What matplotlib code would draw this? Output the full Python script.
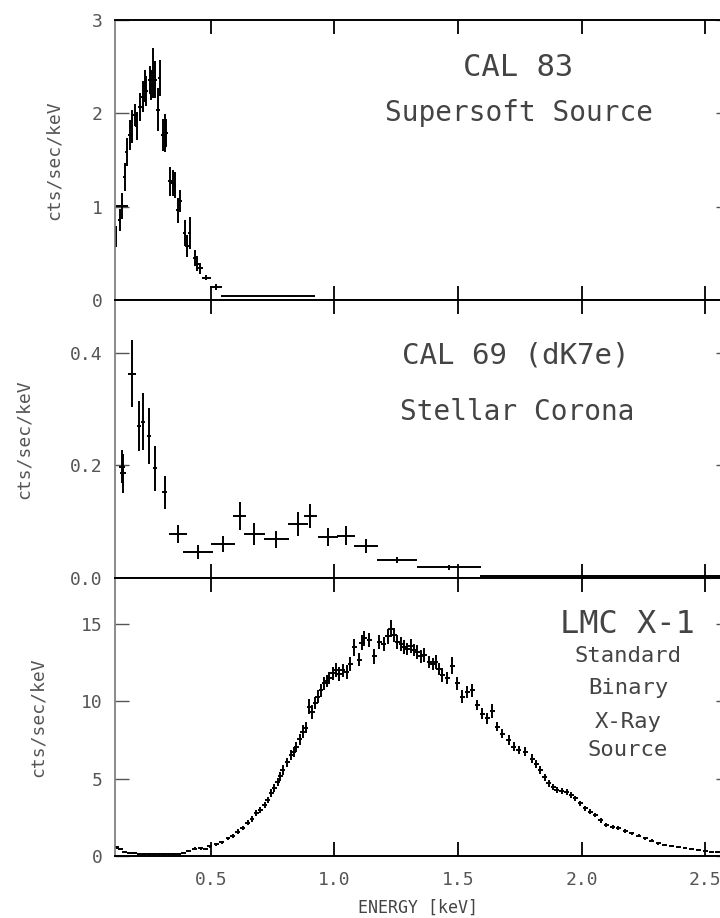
"""
三联 X 射线能谱图：CAL 83 / CAL 69 / LMC X-1
"""

import matplotlib
matplotlib.use('Agg')
import matplotlib.pyplot as plt
from matplotlib.ticker import FormatStrFormatter

# 1. 数据
# CAL 83 超软源
cal83_e = [0.117, 0.133, 0.14, 0.153, 0.16, 0.173, 0.18, 0.194, 0.20, 0.214,
           0.227, 0.234, 0.24, 0.254, 0.26, 0.267, 0.274, 0.287, 0.294, 0.307,
           0.314, 0.32, 0.335, 0.348, 0.354, 0.368, 0.375, 0.395, 0.404, 0.415,
           0.435, 0.445, 0.458, 0.483, 0.523, 0.637, 0.825, 1.19]
cal83_y = [0.68, 0.86, 1.01, 1.32, 1.59, 1.77, 1.86, 1.98, 1.86, 2.07,
           2.18, 2.29, 2.24, 2.36, 2.30, 2.43, 2.36, 2.04, 2.38, 1.77,
           1.79, 1.79, 1.27, 1.25, 1.23, 0.96, 1.06, 0.72, 0.58, 0.72,
           0.45, 0.39, 0.34, 0.24, 0.14, 0.045, 0.04, 0.005]
cal83_ex = [0.006, 0.006, 0.024, 0.006, 0.006, 0.007, 0.007, 0.012, 0.007, 0.007,
            0.007, 0.007, 0.007, 0.007, 0.007, 0.007, 0.007, 0.007, 0.007, 0.007,
            0.007, 0.007, 0.007, 0.007, 0.007, 0.007, 0.007, 0.007, 0.007, 0.007,
            0.007, 0.007, 0.01, 0.02, 0.024, 0.094, 0.095, 0.25]
cal83_ey = [0.11, 0.12, 0.14, 0.15, 0.15, 0.16, 0.18, 0.12, 0.15, 0.15,
            0.17, 0.17, 0.16, 0.15, 0.16, 0.27, 0.20, 0.23, 0.19, 0.17,
            0.20, 0.15, 0.16, 0.14, 0.14, 0.13, 0.12, 0.14, 0.12, 0.17,
            0.09, 0.08, 0.06, 0.03, 0.03, 0.005, 0.01, 0.005]

# CAL 69 (dK7e) 恒星冕
cal69_e = [0.14, 0.145, 0.18, 0.211, 0.227, 0.25, 0.274, 0.315, 0.368, 0.449,
           0.55, 0.617, 0.677, 0.765, 0.852, 0.903, 0.973, 1.047, 1.128, 1.254,
           1.464, 2.10]
cal69_y = [0.198, 0.186, 0.363, 0.27, 0.278, 0.252, 0.195, 0.152, 0.078, 0.046,
           0.06, 0.11, 0.078, 0.069, 0.096, 0.11, 0.072, 0.075, 0.057, 0.032,
           0.019, 0.003]
cal69_ex = [0.012, 0.012, 0.016, 0.008, 0.008, 0.008, 0.008, 0.01, 0.036, 0.06,
            0.049, 0.026, 0.044, 0.05, 0.04, 0.027, 0.04, 0.037, 0.05, 0.081,
            0.128, 0.51]
cal69_ey = [0.03, 0.035, 0.06, 0.045, 0.05, 0.05, 0.04, 0.03, 0.016, 0.012,
            0.014, 0.025, 0.02, 0.015, 0.022, 0.022, 0.016, 0.017, 0.012, 0.005,
            0.004, 0.001]

# LMC X-1 标准 X 射线双星
lmc_e = [0.12, 0.135, 0.153, 0.17, 0.19, 0.21, 0.23, 0.25, 0.27, 0.29,
         0.31, 0.33, 0.35, 0.37, 0.39, 0.41, 0.435, 0.46, 0.48, 0.496,
         0.523, 0.545, 0.57, 0.59, 0.61, 0.63, 0.65, 0.667, 0.684, 0.70,
         0.718, 0.73, 0.745, 0.758, 0.771, 0.782, 0.792,
         0.81, 0.825, 0.835, 0.846, 0.86, 0.872, 0.885, 0.899, 0.91, 0.922,
         0.933, 0.946, 0.96, 0.97, 0.98, 0.993, 1.007,
         1.02, 1.033, 1.05, 1.065, 1.081, 1.10, 1.11, 1.121, 1.141, 1.161,
         1.181, 1.20, 1.215, 1.229, 1.242, 1.255,
         1.27, 1.282, 1.295, 1.309, 1.322, 1.336, 1.35, 1.363, 1.383, 1.397,
         1.41, 1.423, 1.437, 1.457, 1.477, 1.497,
         1.517, 1.537, 1.558, 1.578, 1.598, 1.618, 1.638, 1.658, 1.679, 1.706,
         1.726, 1.746, 1.773,
         1.80, 1.817, 1.833, 1.85, 1.867, 1.885, 1.90, 1.92, 1.94, 1.958,
         1.975, 1.995, 2.015, 2.035, 2.055, 2.078, 2.10,
         2.125, 2.149, 2.176, 2.203, 2.23, 2.257, 2.284, 2.31, 2.337, 2.364,
         2.39, 2.418, 2.445, 2.472, 2.50, 2.525, 2.55, 2.575]
lmc_y = [0.56, 0.45, 0.28, 0.22, 0.18, 0.15, 0.13, 0.15, 0.12, 0.14,
         0.12, 0.14, 0.13, 0.16, 0.18, 0.30, 0.48, 0.50, 0.44, 0.62,
         0.75, 0.88, 1.14, 1.30, 1.57, 1.80, 2.15, 2.40, 2.76, 2.95,
         3.30, 3.62, 4.05, 4.40, 4.80, 5.15, 5.56,
         6.05, 6.53, 6.70, 7.07, 7.55, 8.04, 8.30, 9.65, 9.30, 9.90,
         10.30, 10.70, 11.16, 11.30, 11.49, 11.80, 12.00,
         11.75, 12.00, 11.90, 12.40, 13.50, 12.70, 13.80, 14.07, 13.96, 12.90,
         13.85, 13.70, 14.20, 14.70, 14.30, 13.85,
         13.70, 13.50, 13.40, 13.60, 13.30, 13.20, 12.90, 13.00, 12.56, 12.40,
         12.56, 12.10, 11.70, 11.50, 12.30, 11.16,
         10.30, 10.60, 10.70, 9.76, 9.20, 8.90, 9.40, 8.36, 7.90, 7.50,
         7.07, 6.86, 6.74,
         6.30, 5.95, 5.56, 5.10, 4.70, 4.45, 4.27, 4.20, 4.16, 3.95,
         3.73, 3.40, 3.08, 2.85, 2.65, 2.30, 2.00,
         1.90, 1.79, 1.62, 1.46, 1.30, 1.14, 0.98, 0.82, 0.72, 0.65,
         0.56, 0.50, 0.44, 0.39, 0.33, 0.28, 0.25, 0.22]
lmc_ey = [0.08, 0.08, 0.07, 0.07, 0.06, 0.06, 0.06, 0.06, 0.06, 0.06,
          0.06, 0.06, 0.06, 0.06, 0.06, 0.07, 0.08, 0.08, 0.08, 0.09,
          0.10, 0.10, 0.12, 0.13, 0.15, 0.15, 0.17, 0.18, 0.20, 0.20,
          0.22, 0.22, 0.25, 0.25, 0.27, 0.28, 0.30,
          0.30, 0.30, 0.32, 0.32, 0.35, 0.40, 0.35, 0.50, 0.45, 0.40,
          0.40, 0.40, 0.42, 0.40, 0.40, 0.42, 0.45,
          0.45, 0.42, 0.45, 0.45, 0.55, 0.45, 0.50, 0.50, 0.45, 0.50,
          0.45, 0.45, 0.50, 0.55, 0.45, 0.45,
          0.45, 0.45, 0.40, 0.45, 0.40, 0.45, 0.40, 0.45, 0.40, 0.40,
          0.45, 0.40, 0.45, 0.40, 0.55, 0.40,
          0.40, 0.40, 0.45, 0.35, 0.35, 0.35, 0.45, 0.30, 0.30, 0.30,
          0.28, 0.28, 0.28,
          0.27, 0.25, 0.25, 0.23, 0.22, 0.20, 0.20, 0.20, 0.20, 0.18,
          0.18, 0.17, 0.16, 0.16, 0.15, 0.14, 0.13,
          0.13, 0.12, 0.12, 0.11, 0.10, 0.10, 0.09, 0.09, 0.08, 0.08,
          0.07, 0.07, 0.07, 0.06, 0.06, 0.06, 0.05, 0.05]

x_ticks = [0.5, 1.0, 1.5, 2.0, 2.5]

# 2. 画布与子图（按像素定位）
plt.rcParams['font.family'] = ['DejaVu Sans Mono', 'DejaVu Sans']
W, H = 720, 918
fig = plt.figure(figsize=(W / 100, H / 100), dpi=100)


def px_box(left, top, right, bottom):
    return [left / W, 1 - bottom / H, (right - left) / W, (bottom - top) / H]


ax1 = fig.add_axes(px_box(115, 20, 730, 300))
ax2 = fig.add_axes(px_box(115, 300, 730, 578))
ax3 = fig.add_axes(px_box(115, 578, 730, 856))

grey = '#555555'
for ax in (ax1, ax2, ax3):
    ax.set_xlim(0.113, 2.6)
    ax.set_xticks(x_ticks)
    ax.tick_params(axis='x', direction='in', top=True, bottom=True,
                   length=10, width=1.3, color='black', labelbottom=False)
    ax.tick_params(axis='y', direction='in', left=True, right=True,
                   length=10, width=1.0, color=grey, labelsize=13,
                   labelcolor=grey, pad=9)
    ax.spines['left'].set_color('#777777')
    ax.spines['left'].set_linewidth(1.2)
    for s in ('top', 'bottom'):
        ax.spines[s].set_color('black')
        ax.spines[s].set_linewidth(1.4)
    ax.set_ylabel('cts/sec/keV', fontsize=13, color=grey)

# 3. 画误差棒
eb = dict(fmt='none', ecolor='black', elinewidth=1.4, capsize=0)
ax1.errorbar(cal83_e, cal83_y, xerr=cal83_ex, yerr=cal83_ey, **eb)
ax2.errorbar(cal69_e, cal69_y, xerr=cal69_ex, yerr=cal69_ey, **eb)
ax3.errorbar(lmc_e, lmc_y, xerr=0.01, yerr=lmc_ey, **eb)

ax1.set_ylim(0, 3)
ax1.set_yticks([0, 1, 2, 3])
ax2.set_ylim(0, 0.494)
ax2.set_yticks([0.0, 0.2, 0.4])
ax2.yaxis.set_major_formatter(FormatStrFormatter('%.1f'))
ax3.set_ylim(0, 17.97)
ax3.set_yticks([0, 5, 10, 15])
ax3.tick_params(axis='x', labelbottom=True, labelsize=13, labelcolor=grey, pad=11)
ax3.xaxis.set_major_formatter(FormatStrFormatter('%.1f'))

# y 轴标签位置各不相同
ax1.yaxis.set_label_coords(-0.085, 0.5)
ax2.yaxis.set_label_coords(-0.133, 0.5)
ax3.yaxis.set_label_coords(-0.111, 0.5)

# 4. 文字注释
tc = '#444444'
ax1.text(0.655, 0.832, 'CAL 83', transform=ax1.transAxes, ha='center', va='center', fontsize=22, color=tc)
ax1.text(0.657, 0.668, 'Supersoft Source', transform=ax1.transAxes, ha='center', va='center', fontsize=20, color=tc)
ax2.text(0.652, 0.802, 'CAL 69 (dK7e)', transform=ax2.transAxes, ha='center', va='center', fontsize=21, color=tc)
ax2.text(0.654, 0.597, 'Stellar Corona', transform=ax2.transAxes, ha='center', va='center', fontsize=20, color=tc)
ax3.text(0.8325, 0.831, 'LMC X-1', transform=ax3.transAxes, ha='center', va='center', fontsize=23, color=tc)
for label, yy in zip(['Standard', 'Binary', 'X-Ray', 'Source'], [0.719, 0.604, 0.482, 0.381]):
    ax3.text(0.834, yy, label, transform=ax3.transAxes, ha='center', va='center', fontsize=16, color=tc)

fig.text(418 / W, 1 - 908 / H, 'ENERGY [keV]', ha='center', va='center', fontsize=12, color=tc)

fig.savefig('out.png', dpi=100)
